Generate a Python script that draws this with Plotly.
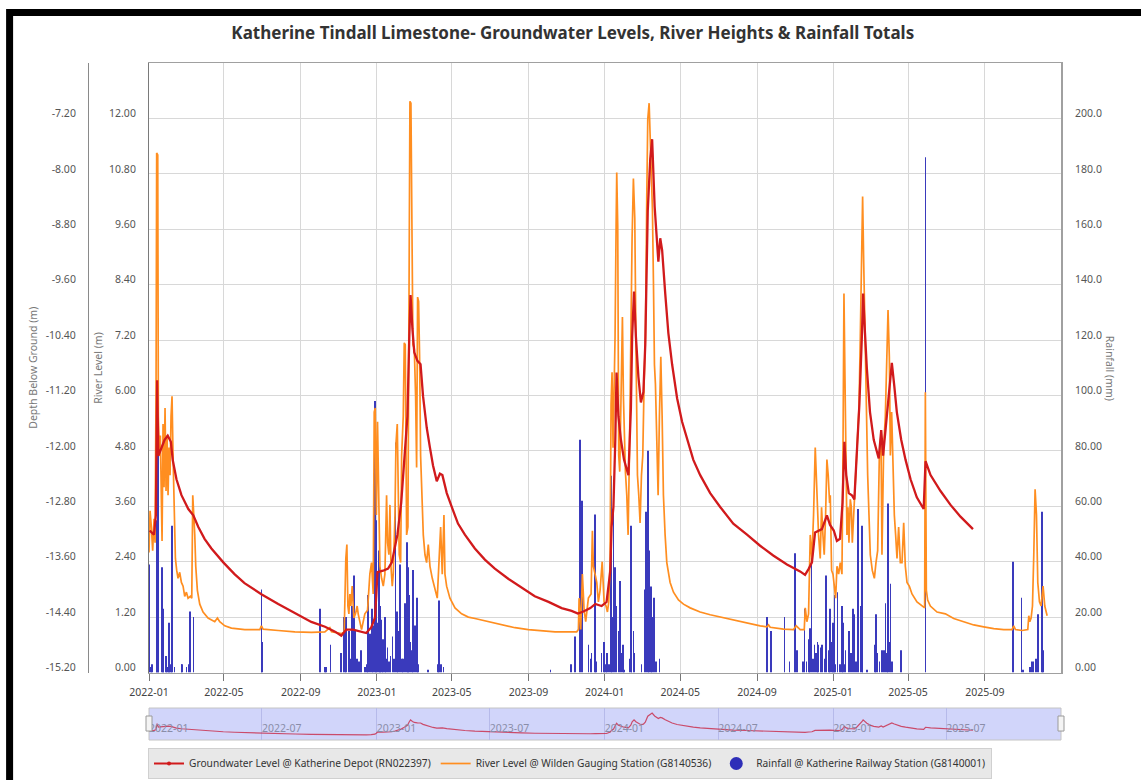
import pandas as pd
import plotly.graph_objects as go

# ---------------------------------------------------------------- data
START = pd.Timestamp("2022-01-01")
END = pd.Timestamp("2026-01-01")

# Groundwater level (depth below ground, m) -- x given as days since 2022-01-01
GW_DAY = [1, 8, 11, 13, 15, 20, 25, 30, 35, 38,
          44, 52, 63, 71, 79, 89, 100, 119, 137, 153,
          180, 207, 234, 260, 282, 298, 308, 316, 327, 338,
          348, 356, 362, 364, 366, 375, 383, 389, 394, 398,
          404, 409, 414, 417, 419, 422, 425, 430, 435, 439,
          445, 450, 455, 461, 466, 470, 477, 485, 495, 506,
          522, 538, 554, 576, 597, 618, 640, 661, 677, 687,
          696, 707, 715, 725, 733, 739, 741, 744, 747, 749,
          752, 756, 761, 768, 772, 774, 777, 780, 784, 788,
          792, 795, 799, 803, 806, 810, 813, 816, 819, 822,
          827, 832, 838, 846, 854, 862, 872, 883, 899, 915,
          936, 958, 979, 1000, 1022, 1043, 1051, 1057, 1062, 1067,
          1073, 1078, 1086, 1091, 1097, 1102, 1107, 1111, 1114, 1117,
          1121, 1126, 1130, 1134, 1138, 1142, 1144, 1147, 1150, 1155,
          1161, 1169, 1173, 1176, 1180, 1184, 1188, 1190, 1194, 1198,
          1205, 1212, 1220, 1230, 1241, 1244, 1252, 1268, 1284, 1300,
          1320]
GW_DEPTH = [-13.15, -13.21, -12.93, -10.98, -12.07, -11.95, -11.84, -11.78, -11.87, -12.13,
            -12.41, -12.64, -12.84, -12.93, -13.10, -13.27, -13.41, -13.61, -13.78, -13.91,
            -14.07, -14.21, -14.34, -14.47, -14.54, -14.61, -14.67, -14.58, -14.58, -14.61,
            -14.63, -14.55, -14.41, -14.10, -13.75, -13.73, -13.70, -13.61, -13.38, -13.21,
            -12.75, -12.18, -11.50, -10.35, -9.75, -10.24, -10.58, -10.70, -10.75, -11.21,
            -11.67, -11.95, -12.21, -12.44, -12.33, -12.35, -12.61, -12.81, -13.05, -13.21,
            -13.41, -13.57, -13.70, -13.85, -13.98, -14.10, -14.18, -14.27, -14.31, -14.35,
            -14.32, -14.27, -14.21, -14.24, -14.18, -13.73, -13.10, -12.81, -11.84, -10.87,
            -11.50, -11.84, -12.13, -12.35, -11.38, -10.35, -9.70, -10.35, -10.93, -11.30,
            -11.15, -10.47, -8.53, -7.78, -7.50, -8.47, -8.87, -9.27, -8.93, -9.10,
            -9.73, -10.30, -10.75, -11.24, -11.58, -11.84, -12.13, -12.35, -12.61, -12.81,
            -13.05, -13.21, -13.37, -13.51, -13.64, -13.74, -13.79, -13.70, -13.61, -13.18,
            -13.15, -13.13, -12.93, -13.07, -13.15, -13.30, -13.27, -12.75, -11.87, -12.35,
            -12.61, -12.64, -12.70, -12.07, -11.33, -10.35, -9.73, -10.30, -10.81, -11.44,
            -11.84, -12.11, -11.70, -12.07, -11.70, -11.27, -10.87, -10.73, -11.07, -11.44,
            -11.84, -12.13, -12.41, -12.67, -12.84, -12.15, -12.35, -12.58, -12.78, -12.95,
            -13.13]

# River level (m) -- x given as days since 2022-01-01
RIVER_DAY = [0, 1.7, 3.8, 5.9, 8.1, 9.7, 11.3, 12.3, 14.0, 15.0,
             16.6, 18.2, 19.8, 20.9, 22.5, 24.1, 25.7, 27.3, 28.9, 30.5,
             32.1, 33.7, 35.3, 36.9, 38.5, 40.1, 42.3, 44.4, 46.5, 49.2,
             51.9, 54.6, 57.2, 59.9, 62.6, 66.3, 68.5, 70.1, 71.7, 73.3,
             74.9, 77.5, 81.3, 86.6, 94.6, 105.3, 109.6, 113.3, 121.4, 132,
             153.4, 177.5, 180.1, 182.8, 206.9, 233.6, 260.3, 281.7, 289.7, 292.4,
             308.4, 312.7, 315.3, 317, 318.6, 320.2, 321.8, 323.4, 325.5, 328.2,
             330.8, 333.5, 335.1, 337.8, 340.5, 345.8, 350.1, 353.8, 356.5, 359.2,
             360.8, 362.4, 364.3, 366.1, 367.5, 369.9, 372.6, 375.3, 377.9, 380.6,
             382.2, 384.3, 386, 387.6, 389.7, 391.3, 394, 395.6, 397.7, 399.3,
             400.9, 403.1, 404.7, 407.3, 408.9, 410.5, 412.7, 414.8, 416.4, 418,
             419.6, 421.2, 422.8, 425, 427.1, 428.7, 430.3, 431.9, 433.5, 435.1,
             436.7, 439.4, 442.1, 444.7, 447.4, 450.1, 453.8, 458.1, 461.8, 464.5,
             467.2, 469.8, 472.5, 474.1, 476.8, 482.1, 490.2, 500.8, 511.5, 522.2,
             543.6, 565, 586.3, 607.7, 629.1, 650.5, 671.9, 685.2, 687.9, 689,
             691.6, 694.3, 697, 699.6, 703.9, 708.2, 710.3, 711.9, 714.6, 717.3,
             719.9, 722.6, 726, 729, 732.2, 734.4, 736.5, 738.6, 740.2, 741.8,
             743.4, 745, 746.6, 748.3, 749.3, 750.9, 752.5, 754.1, 755.7, 757.3,
             758.4, 760, 761.6, 763.2, 765.4, 767.5, 769.6, 771.8, 773.9, 776,
             778.2, 780.3, 782.5, 784.6, 786.7, 788.9, 791, 793.1, 795.3, 797.4,
             799, 801.2, 802.8, 804.4, 806.5, 808.1, 809.7, 811.3, 813.5, 815.6,
             817.7, 819.9, 822, 824.1, 826.8, 829.5, 834.8, 840.2, 848.2, 856.2,
             866.9, 882.9, 899, 915, 936.4, 957.7, 979.1, 989.8, 992.5, 995.1,
             1016.5, 1032.5, 1036.8, 1043.2, 1049.7, 1051.3, 1053.9, 1056.6, 1059.3, 1062,
             1064.6, 1067.3, 1070, 1072.6, 1075.3, 1077.4, 1079.6, 1081.7, 1083.9, 1086,
             1088.1, 1090.3, 1091.4, 1093.5, 1095.7, 1097.8, 1100, 1102.1, 1104.8, 1107.4,
             1110.1, 1111.7, 1113.3, 1114.9, 1116.5, 1118.1, 1119.7, 1121.3, 1123.5, 1125.1,
             1126.7, 1128.8, 1131, 1133.1, 1135.2, 1137.4, 1139.5, 1141.6, 1143.2, 1144.8,
             1147, 1149.1, 1151.3, 1153.4, 1155.5, 1158.7, 1162, 1164.6, 1167.3, 1170,
             1172.6, 1174.2, 1176.9, 1179.6, 1182.2, 1183.9, 1186, 1187.6, 1189.7, 1191.9,
             1194, 1196.1, 1198.3, 1200.9, 1203.6, 1206.3, 1209, 1211.6, 1214.3, 1218,
             1222.3, 1230.3, 1238.4, 1242.6, 1243.7, 1245.3, 1247.4, 1251.7, 1262.4, 1275.8,
             1289.1, 1305.2, 1321.2, 1337.2, 1353.3, 1369.3, 1382.6, 1385.3, 1388, 1398.7,
             1407.8, 1409.4, 1411, 1413.1, 1415.3, 1417.4, 1419.5, 1421.7, 1423.8, 1426.5,
             1429.1, 1432.3, 1435, 1438.8]
RIVER_LEVEL = [2.60, 3.50, 3.15, 2.64, 3.33, 2.81, 6.15, 11.25, 11.21, 5.55,
               4.70, 5.13, 3.75, 2.85, 5.38, 4.01, 5.73, 3.93, 5.13, 3.84,
               4.87, 4.27, 5.55, 5.98, 4.70, 3.33, 2.47, 2.21, 2.04, 2.17,
               1.95, 1.87, 1.65, 1.74, 1.61, 1.65, 1.61, 3.84, 3.50, 2.98,
               2.30, 1.78, 1.48, 1.31, 1.18, 1.10, 1.18, 1.10, 1.01, 0.96,
               0.93, 0.93, 1.01, 0.94, 0.91, 0.88, 0.87, 0.88, 0.97, 0.88,
               0.84, 0.88, 2.47, 2.77, 1.44, 1.27, 1.70, 1.44, 1.87, 1.18,
               1.27, 1.44, 1.27, 1.10, 0.93, 1.27, 1.35, 2.13, 2.38, 1.70,
               5.64, 5.73, 3.41, 5.43, 3.84, 2.30, 2.04, 1.87, 2.13, 3.84,
               2.81, 2.55, 3.63, 2.30, 1.87, 2.13, 3.41, 4.95, 5.38, 3.41,
               2.55, 2.38, 4.70, 5.55, 7.14, 7.10, 2.98, 3.15, 8.13, 12.37,
               12.33, 8.13, 7.10, 7.01, 5.98, 4.44, 8.13, 8.04, 6.84, 4.70,
               3.84, 2.98, 2.55, 2.38, 2.77, 2.30, 2.04, 1.78, 1.61, 2.38,
               3.15, 2.13, 3.41, 2.13, 1.87, 1.61, 1.40, 1.27, 1.20, 1.17,
               1.10, 1.03, 0.97, 0.93, 0.90, 0.88, 0.88, 0.88, 0.93, 1.61,
               0.93, 2.13, 1.35, 1.10, 1.61, 1.70, 3.07, 2.30, 2.13, 1.95,
               1.53, 1.78, 2.40, 1.53, 1.44, 1.31, 1.53, 2.38, 5.81, 6.50,
               4.87, 5.98, 7.27, 9.67, 10.83, 9.67, 4.70, 4.35, 5.55, 6.75,
               7.70, 5.98, 4.87, 4.35, 3.84, 2.98, 4.70, 7.27, 9.41, 10.70,
               9.84, 6.84, 4.27, 3.84, 3.24, 4.27, 4.70, 6.24, 7.27, 10.27,
               11.98, 12.33, 11.55, 11.30, 10.01, 8.47, 6.67, 6.24, 5.13, 3.84,
               5.55, 6.84, 5.55, 3.84, 2.98, 2.38, 1.95, 1.74, 1.57, 1.48,
               1.40, 1.31, 1.25, 1.20, 1.14, 1.08, 1.01, 0.99, 1.03, 0.98,
               0.94, 0.93, 1.01, 0.93, 0.93, 1.40, 1.10, 1.27, 2.98, 2.47,
               3.41, 4.87, 3.84, 2.98, 2.47, 3.58, 2.98, 2.55, 3.41, 4.61,
               4.27, 3.67, 3.84, 2.21, 2.13, 1.87, 1.61, 2.30, 2.13, 2.38,
               2.13, 4.70, 8.21, 6.41, 3.84, 2.98, 3.58, 2.81, 3.75, 3.58,
               2.81, 3.41, 3.84, 4.53, 5.13, 5.73, 7.27, 8.81, 10.31, 8.98,
               7.44, 5.55, 4.27, 3.41, 2.55, 2.21, 2.04, 2.38, 2.64, 4.70,
               5.13, 2.55, 4.87, 5.55, 7.27, 7.85, 6.84, 4.70, 5.64, 4.18,
               3.41, 2.98, 2.47, 3.15, 2.38, 2.38, 3.24, 2.30, 1.95, 1.87,
               1.70, 1.53, 1.44, 1.40, 6.07, 1.78, 1.57, 1.44, 1.31, 1.27,
               1.17, 1.10, 1.03, 0.99, 0.95, 0.93, 0.93, 1.01, 0.93, 0.91,
               0.93, 1.23, 1.10, 1.18, 1.44, 2.55, 3.97, 3.41, 1.95, 1.53,
               1.44, 1.87, 1.44, 1.23]

# Daily rainfall (mm) -- x given as days since 2022-01-01
RAIN_DAY = [1, 3, 5, 12, 13, 14, 15, 21, 22, 23,
            27, 29, 31, 32, 34, 36, 37, 41, 52, 53,
            60, 63, 66, 71, 180, 181, 274, 282, 284, 291,
            308, 312, 315, 316, 320, 323, 325, 328, 331, 333,
            336, 340, 346, 349, 351, 354, 357, 359, 362, 364,
            366, 368, 370, 372, 374, 375, 378, 380, 382, 384,
            387, 390, 392, 395, 397, 399, 402, 405, 407, 410,
            413, 415, 417, 419, 421, 423, 426, 429, 431, 447,
            463, 465, 468, 472, 643, 676, 682, 690, 694, 704,
            707, 709, 714, 716, 725, 729, 732, 734, 737, 740,
            742, 744, 747, 749, 752, 755, 757, 759, 761, 770,
            772, 773, 776, 778, 789, 794, 796, 799, 801, 804,
            806, 809, 812, 818, 990, 996, 1018, 1026, 1035, 1038,
            1048, 1050, 1053, 1057, 1059, 1061, 1064, 1066, 1069, 1071,
            1072, 1076, 1078, 1082, 1085, 1089, 1091, 1094, 1096, 1098,
            1099, 1103, 1107, 1110, 1112, 1114, 1116, 1121, 1125, 1128,
            1130, 1133, 1136, 1140, 1142, 1143, 1150, 1163, 1165, 1167,
            1170, 1174, 1177, 1180, 1182, 1184, 1186, 1188, 1190, 1205,
            1244, 1384, 1398, 1400, 1411, 1415, 1417, 1421, 1424, 1431,
            1432]
RAIN_MM = [39, 2, 3, 55, 7, 95, 19, 38, 23, 7,
           6, 2, 15, 18, 3, 7, 53, 2, 3, 3,
           2, 3, 22, 20, 30, 11, 23, 2, 2, 10,
           7, 20, 9, 20, 15, 5, 24, 35, 15, 5,
           4, 8, 2, 3, 28, 14, 23, 17, 98, 55,
           18, 44, 24, 19, 7, 12, 20, 5, 9, 4,
           6, 13, 5, 83, 22, 15, 39, 5, 5, 25,
           47, 38, 28, 11, 8, 37, 17, 27, 3, 1,
           3, 26, 3, 2, 1, 3, 13, 84, 62, 10,
           5, 7, 57, 4, 7, 11, 3, 7, 3, 71,
           20, 63, 38, 24, 15, 33, 7, 10, 1, 5,
           53, 20, 15, 7, 3, 30, 58, 80, 44, 31,
           20, 27, 4, 5, 20, 15, 20, 4, 43, 8,
           4, 23, 4, 12, 16, 43, 5, 10, 7, 11,
           10, 9, 10, 5, 35, 8, 23, 11, 18, 28,
           3, 29, 3, 24, 18, 3, 8, 15, 7, 23,
           21, 4, 59, 24, 53, 26, 1, 10, 21, 7,
           4, 8, 8, 25, 7, 61, 11, 32, 4, 8,
           186, 40, 27, 1, 2, 4, 4, 5, 21, 58,
           8]

assert len(GW_DAY) == len(GW_DEPTH)
assert len(RIVER_DAY) == len(RIVER_LEVEL)
assert len(RAIN_DAY) == len(RAIN_MM)

DEPTH_TICKS = [-15.2, -14.4, -13.6, -12.8, -12.0, -11.2, -10.4, -9.6, -8.8, -8.0, -7.2]
DEPTH_TICK_TEXT = ["-15.20", "-14.40", "-13.60", "-12.80", "-12.00", "-11.20",
                   "-10.40", "-9.60", "-8.80", "-8.00", "-7.20"]
RIVER_TICKS = [0.0, 1.2, 2.4, 3.6, 4.8, 6.0, 7.2, 8.4, 9.6, 10.8, 12.0]
RAIN_TICKS = [0, 20, 40, 60, 80, 100, 120, 140, 160, 180, 200]
RAIN_TICK_TEXT = ["0.00", "20.00", "40.00", "60.00", "80.00", "100.0",
                  "120.0", "140.0", "160.0", "180.0", "200.0"]
X_TICKS = ["2022-01-01", "2022-05-01", "2022-09-01", "2023-01-01", "2023-05-01",
           "2023-09-01", "2024-01-01", "2024-05-01", "2024-09-01", "2025-01-01",
           "2025-05-01", "2025-09-01"]
SLIDER_TICKS = ["2022-01-01", "2022-07-01", "2023-01-01", "2023-07-01",
                "2024-01-01", "2024-07-01", "2025-01-01", "2025-07-01"]

TITLE = "Katherine Tindall Limestone- Groundwater Levels, River Heights & Rainfall Totals"
GW_NAME = "Groundwater Level @ Katherine Depot (RN022397)"
RIVER_NAME = "River Level @ Wilden Gauging Station (G8140536)"
RAIN_NAME = "Rainfall @ Katherine Railway Station (G8140001)"


def to_dates(days):
    return [START + pd.Timedelta(days=float(d)) for d in days]


gw_x = to_dates(GW_DAY)
river_x = to_dates(RIVER_DAY)
rain_x = to_dates(RAIN_DAY)

# ---------------------------------------------------------------- geometry
W, H = 1141, 780
ML, MR, MT, MB = 88, 80, 63, 30
PW = W - ML - MR
PH = H - MT - MB


def fx(p):
    return (p - ML) / PW


def fy(p):
    return (H - MB - p) / PH


PLOT_LEFT, PLOT_BOTTOM = 149, 672.5
SL_TOP, SL_BOT = 708, 740
RIVER_MAX = 13.2
RAIN_MAX = RIVER_MAX * 200 / 12
DEPTH_MIN = -15.2
DEPTH_MAX = DEPTH_MIN + RIVER_MAX * 0.8 / 1.2

RED = "#D11A1C"
ORANGE = "#FF8E20"
BLUE = "#3A3ABC"
FONT = "Noto Sans, Open Sans, DejaVu Sans, sans-serif"
TICKFONT = dict(family=FONT, size=10.5, color="#555555")
SHIFT = -5

fig = go.Figure()

fig.add_trace(go.Bar(x=rain_x, y=RAIN_MM, xaxis="x", yaxis="y",
                     marker=dict(color=BLUE, line=dict(width=0)),
                     width=86400000 * 1.0, showlegend=False, hoverinfo="skip"))
fig.add_trace(go.Scatter(x=river_x, y=RIVER_LEVEL, xaxis="x", yaxis="y2", mode="lines",
                         line=dict(color=ORANGE, width=1.7), name=RIVER_NAME,
                         legendrank=2))
fig.add_trace(go.Scatter(x=gw_x, y=GW_DEPTH, xaxis="x", yaxis="y3", mode="lines",
                         line=dict(color=RED, width=2.3), showlegend=False))
fig.add_trace(go.Scatter(x=[None], y=[None], xaxis="x", yaxis="y3", mode="lines+markers",
                         line=dict(color=RED, width=2), marker=dict(size=4, color=RED),
                         name=GW_NAME, legendrank=1))
fig.add_trace(go.Scatter(x=[None], y=[None], xaxis="x", yaxis="y", mode="markers",
                         marker=dict(color="#2E2EB8", size=13), name=RAIN_NAME,
                         legendrank=3))
# navigator strip
fig.add_trace(go.Scatter(x=gw_x, y=GW_DEPTH, xaxis="x2", yaxis="y4", mode="lines",
                         line=dict(color="rgba(200,40,70,0.8)", width=1.2),
                         showlegend=False, hoverinfo="skip"))

main_dom = [fy(PLOT_BOTTOM), 1]
x_dom = [fx(PLOT_LEFT), 1]

fig.update_layout(
    width=W, height=H,
    margin=dict(l=ML, r=MR, t=MT, b=MB, pad=0, autoexpand=False),
    paper_bgcolor="white", plot_bgcolor="white",
    font=dict(family=FONT, size=10.5, color="#555555"),
    title=dict(text="<b>" + TITLE + "</b>", x=0.502, xref="container", xanchor="center",
               y=1 - 33 / H, yref="container", yanchor="middle",
               font=dict(family=FONT, size=17, color="#333333")),
    showlegend=True,
    legend=dict(orientation="h", x=fx(148), xanchor="left", y=fy(748), yanchor="top",
                bgcolor="#E8E8E8", bordercolor="#D0D0D0", borderwidth=1,
                font=dict(family=FONT, size=10.2, color="#333333"),
                itemwidth=30, traceorder="normal"),
    xaxis=dict(domain=x_dom, anchor="y", type="date", range=[START, END],
               tickvals=X_TICKS, tickformat="%Y-%m", ticks="outside", ticklen=7,
               tickcolor="#777777", showgrid=True, gridcolor="#D8D8D8",
               showline=True, linecolor="#A0A0A0", mirror=True, zeroline=False,
               tickfont=dict(family=FONT, size=10.5, color="#444444"),
               ticklabelstandoff=3),
    yaxis=dict(domain=main_dom, anchor="x", side="right", range=[0, RAIN_MAX],
               tickvals=RAIN_TICKS, ticktext=RAIN_TICK_TEXT, showgrid=False,
               zeroline=False, showline=True, linecolor="#A0A0A0", linewidth=2,
               ticks="", tickfont=TICKFONT, ticklabelstandoff=10, ticklabelshift=SHIFT),
    yaxis2=dict(overlaying="y", anchor="x", side="left", range=[0, RIVER_MAX],
                tickvals=RIVER_TICKS, tickformat=".2f", showgrid=True,
                gridcolor="#D8D8D8", zeroline=False, showline=True,
                linecolor="#7A7A7A", ticks="", tickfont=TICKFONT,
                ticklabelstandoff=10, ticklabelshift=SHIFT),
    yaxis3=dict(overlaying="y", anchor="free", position=0, side="left",
                range=[DEPTH_MIN, DEPTH_MAX], tickvals=DEPTH_TICKS,
                ticktext=DEPTH_TICK_TEXT,
                showgrid=False, zeroline=False, showline=True, linecolor="#8A8A8A",
                ticks="", tickfont=TICKFONT, ticklabelstandoff=10, ticklabelshift=SHIFT),
    xaxis2=dict(domain=x_dom, anchor="y4", type="date", range=[START, END],
                tickvals=SLIDER_TICKS, tickformat="%Y-%m", ticks="",
                showgrid=True, gridcolor="#B6BAEA", showline=False, zeroline=False,
                ticklabelposition="inside right",
                tickfont=dict(family=FONT, size=10.5, color="#8A8DA8")),
    yaxis4=dict(domain=[fy(SL_BOT), fy(SL_TOP)], anchor="x2", range=[-16.3, -5.87],
                visible=False, showgrid=False, zeroline=False),
)

AX_TITLE_FONT = dict(family=FONT, size=10.5, color="#777777")
mid_y = fy((63 + PLOT_BOTTOM) / 2)
fig.add_annotation(text="Depth Below Ground (m)", xref="paper", yref="paper",
                   x=fx(33), y=mid_y, textangle=-90, showarrow=False,
                   xanchor="center", yanchor="middle", font=AX_TITLE_FONT)
fig.add_annotation(text="River Level (m)", xref="paper", yref="paper",
                   x=fx(98), y=mid_y, textangle=-90, showarrow=False,
                   xanchor="center", yanchor="middle", font=AX_TITLE_FONT)
fig.add_annotation(text="Rainfall (mm)", xref="paper", yref="paper",
                   x=fx(1110), y=mid_y, textangle=90, showarrow=False,
                   xanchor="center", yanchor="middle", font=AX_TITLE_FONT)

# navigator background and handles
fig.add_shape(type="rect", xref="x2 domain", yref="y4 domain", x0=0, x1=1, y0=0, y1=1,
              fillcolor="#D1D5FA", line=dict(color="#C4C4C4", width=1), layer="below")
hw = 3 / (W - MR - PLOT_LEFT)
for cx in (0, 1):
    fig.add_shape(type="rect", xref="x2 domain", yref="y4 domain",
                  x0=cx - hw, x1=cx + hw, y0=0.28, y1=0.75,
                  fillcolor="#F4F4F4", line=dict(color="#9A9A9A", width=1), layer="above")

# outer black frame
fig.add_shape(type="rect", xref="paper", yref="paper",
              x0=fx(9.6), x1=fx(1400), y0=fy(950), y1=fy(12.5),
              line=dict(color="black", width=7), fillcolor="rgba(0,0,0,0)", layer="above")

fig.write_html("out.html", config={"displayModeBar": False},
               post_script="document.body.style.margin='0';document.body.style.overflow='hidden';")
